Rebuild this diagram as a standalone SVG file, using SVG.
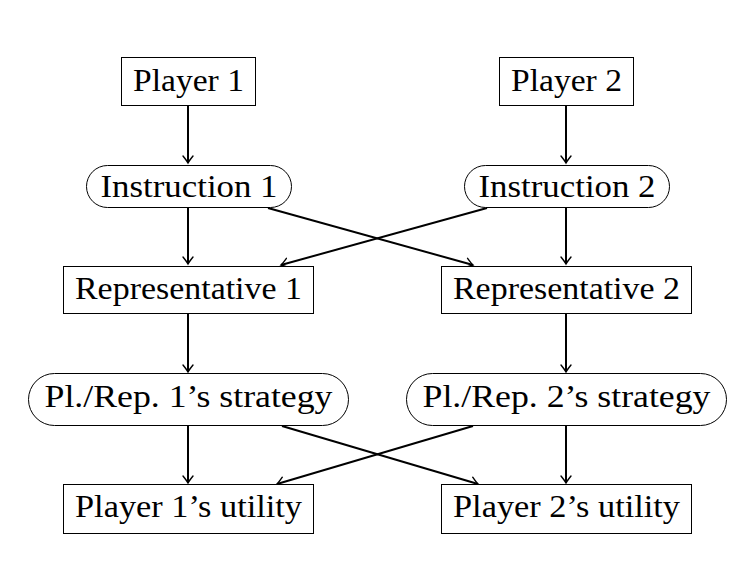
<svg xmlns="http://www.w3.org/2000/svg" width="751" height="561" viewBox="0 0 751 561">
<defs>
<marker id="arr" viewBox="-8 -6 10 12" markerWidth="10" markerHeight="12" refX="0" refY="0" orient="auto" markerUnits="userSpaceOnUse">
<path d="M-7,-5 Q-2,-1 0,0 Q-2,1 -7,5" fill="none" stroke="#000" stroke-width="1.4" stroke-linecap="round"/>
</marker>
<style>
.n{fill:#fff;stroke:#000;stroke-width:1}
.t{font-family:"Liberation Serif",serif;font-size:31px;fill:#000;text-anchor:middle}
.c line{stroke:#000;stroke-width:2;marker-end:url(#arr)}
</style>
</defs>
<rect width="751" height="561" fill="#fff"/>
<g class="c" id="connectors">
<line x1="188" y1="106" x2="188" y2="163"/>
<line x1="566" y1="106" x2="566" y2="163"/>
<line x1="188" y1="208" x2="188" y2="264"/>
<line x1="566" y1="208" x2="566" y2="264"/>
<line x1="268" y1="208" x2="473" y2="265"/>
<line x1="487" y1="208" x2="281" y2="265"/>
<line x1="188" y1="313" x2="188" y2="372"/>
<line x1="566" y1="313" x2="566" y2="372"/>
<line x1="188" y1="426" x2="188" y2="483"/>
<line x1="566" y1="426" x2="566" y2="483"/>
<line x1="282" y1="426" x2="478" y2="484"/>
<line x1="473" y1="426" x2="277" y2="484"/>
</g>
<g id="player1"><rect class="n" x="121.5" y="57.5" width="134" height="48"/><text class="t" x="188.5" y="91" textLength="111" lengthAdjust="spacingAndGlyphs">Player 1</text></g>
<g id="player2"><rect class="n" x="499.5" y="57.5" width="134" height="48"/><text class="t" x="566.5" y="91" textLength="111" lengthAdjust="spacingAndGlyphs">Player 2</text></g>
<g id="instr1"><rect class="n" x="86.5" y="165.5" width="205" height="42" rx="21"/><text class="t" x="189" y="197" textLength="177" lengthAdjust="spacingAndGlyphs">Instruction 1</text></g>
<g id="instr2"><rect class="n" x="464.5" y="165.5" width="205" height="42" rx="21"/><text class="t" x="567" y="197" textLength="177" lengthAdjust="spacingAndGlyphs">Instruction 2</text></g>
<g id="rep1"><rect class="n" x="63.5" y="266.5" width="250" height="47"/><text class="t" x="188.5" y="299" textLength="227" lengthAdjust="spacingAndGlyphs">Representative 1</text></g>
<g id="rep2"><rect class="n" x="441.5" y="266.5" width="250" height="47"/><text class="t" x="566.5" y="299" textLength="227" lengthAdjust="spacingAndGlyphs">Representative 2</text></g>
<g id="strat1"><rect class="n" x="28.5" y="373.5" width="320" height="52" rx="26"/><text class="t" x="188.5" y="407" textLength="288" lengthAdjust="spacingAndGlyphs">Pl./Rep. 1’s strategy</text></g>
<g id="strat2"><rect class="n" x="406.5" y="373.5" width="320" height="52" rx="26"/><text class="t" x="566.5" y="407" textLength="288" lengthAdjust="spacingAndGlyphs">Pl./Rep. 2’s strategy</text></g>
<g id="util1"><rect class="n" x="63.5" y="484.5" width="250" height="49"/><text class="t" x="188.5" y="517" textLength="227" lengthAdjust="spacingAndGlyphs">Player 1’s utility</text></g>
<g id="util2"><rect class="n" x="441.5" y="484.5" width="250" height="49"/><text class="t" x="566.5" y="517" textLength="227" lengthAdjust="spacingAndGlyphs">Player 2’s utility</text></g>
</svg>
